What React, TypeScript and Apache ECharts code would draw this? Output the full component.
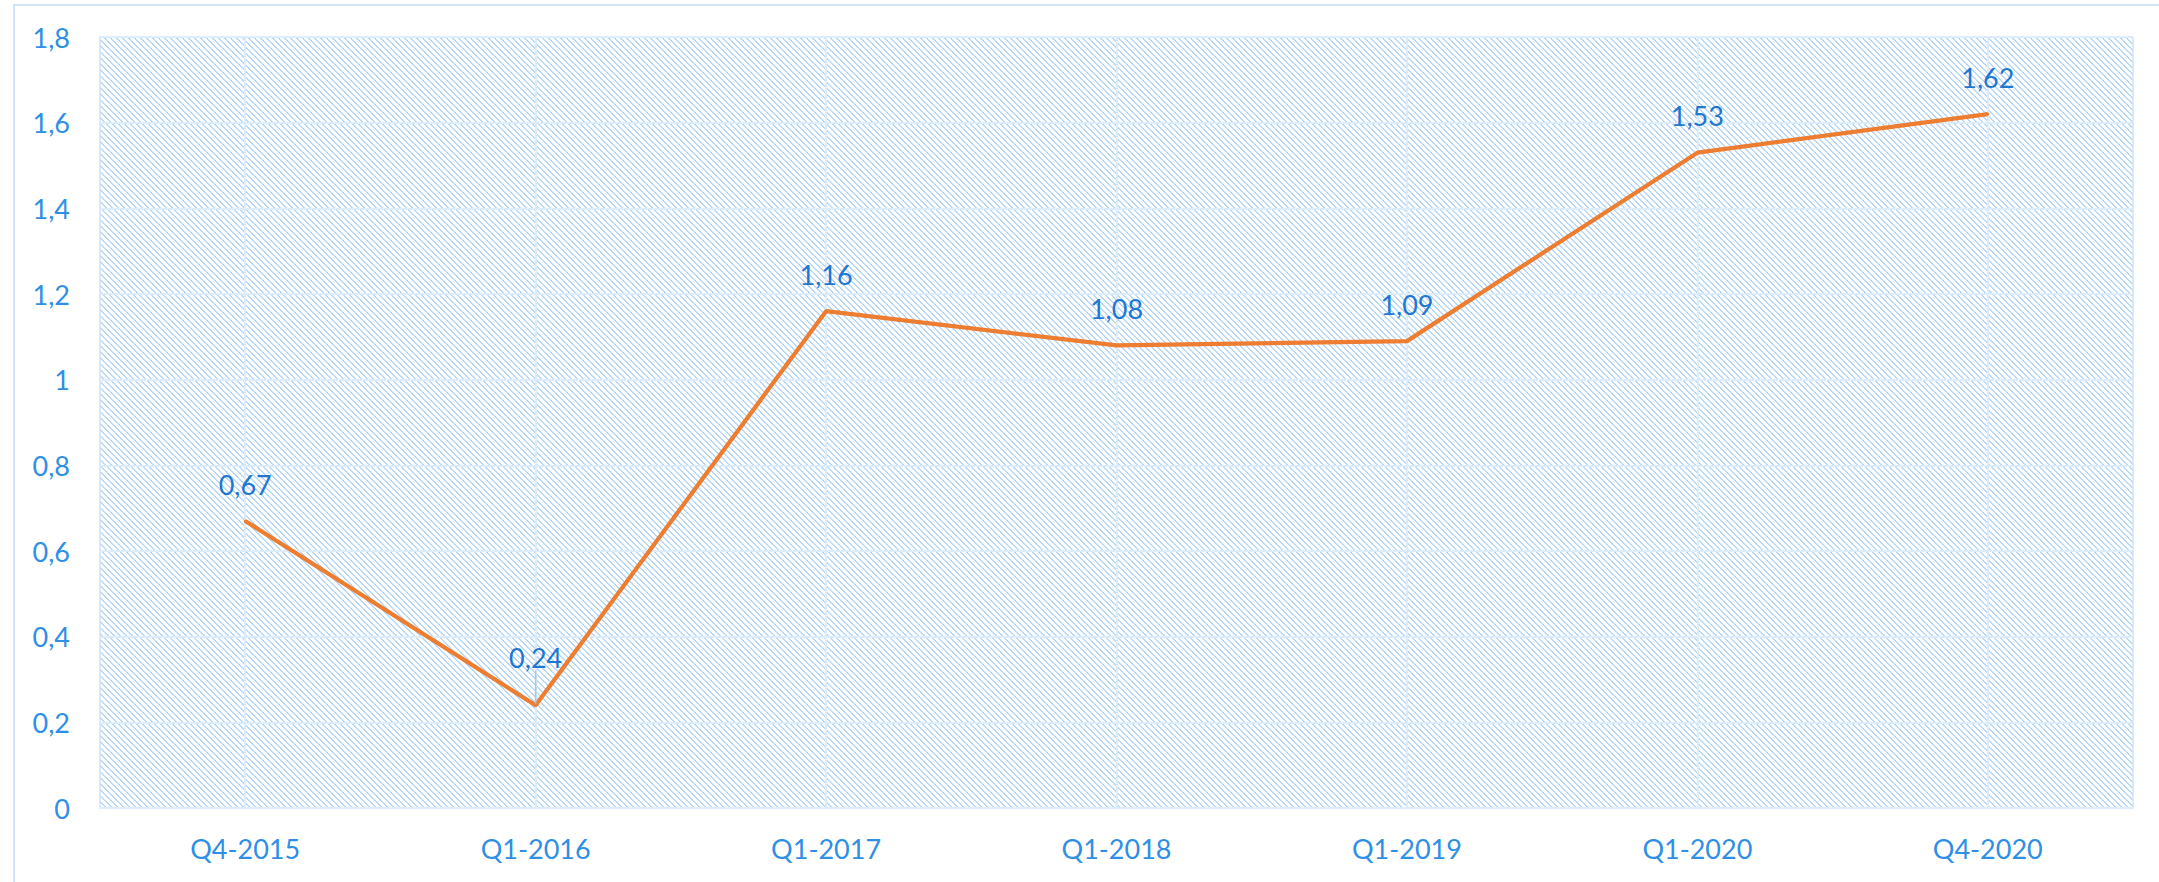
import React, { useEffect, useRef } from "react";
import * as echarts from "echarts";

const categories = ["Q4-2015", "Q1-2016", "Q1-2017", "Q1-2018", "Q1-2019", "Q1-2020", "Q4-2020"];
const values = [0.67, 0.24, 1.16, 1.08, 1.09, 1.53, 1.62];
const yMin = 0;
const yMax = 1.8;
const yInterval = 0.2;
const movedLabelIndex = 1;

function makeHatch(): string {
  const n = 6;
  const c = document.createElement("canvas");
  c.width = n;
  c.height = n;
  const ctx = c.getContext("2d")!;
  ctx.fillStyle = "#ffffff";
  ctx.fillRect(0, 0, n, n);
  ctx.fillStyle = "#b9d9f6";
  for (let y = 0; y < n; y++) {
    ctx.fillRect(y, y, 1, 1);
    ctx.fillRect((y + 1) % n, y, 1, 1);
  }
  return c.toDataURL();
}

const comma = (v: number, d: number) => v.toFixed(d).replace(".", ",");

export default function App() {
  const ref = useRef<HTMLDivElement>(null);
  useEffect(() => {
    if (!ref.current) return;
    const chart = echarts.init(ref.current, undefined, { renderer: "svg" });
    const font = "Lato, 'Open Sans', sans-serif";
    const gridLine = { color: "#dcecfb", width: 2.2, type: "solid" as const };
    chart.setOption({
      animation: false,
      backgroundColor: "#ffffff",
      graphic: [
        {
          type: "rect",
          shape: { x: 14, y: 5, width: 2400, height: 1200 },
          style: { fill: "none", stroke: "#d2e5f7", lineWidth: 2 },
          silent: true,
        },
      ],
      grid: {
        left: 100,
        top: 37,
        right: 26,
        bottom: 74,
        show: true,
        backgroundColor: {
          image: makeHatch(),
          repeat: "repeat",
          imageWidth: 6,
          imageHeight: 6,
        },
        borderColor: "#cfe4f8",
        borderWidth: 1.5,
      },
      xAxis: {
        type: "category",
        data: categories,
        boundaryGap: true,
        axisLine: { show: false },
        axisTick: { show: false },
        axisLabel: { color: "#2f8fe5", fontSize: 27, fontFamily: font, margin: 27 },
        splitLine: { show: false },
      },
      yAxis: {
        type: "value",
        min: yMin,
        max: yMax,
        interval: yInterval,
        axisLine: { show: false },
        axisTick: { show: false },
        axisLabel: {
          color: "#2f8fe5",
          fontSize: 27,
          fontFamily: font,
          margin: 30,
          formatter: (v: number) => String(Number(v.toFixed(1))).replace(".", ","),
        },
        splitLine: { show: true, lineStyle: gridLine },
      },
      series: [
        {
          type: "line",
          z: 3,
          data: values.map((v, i) =>
            i === movedLabelIndex
              ? { value: v, labelLine: { show: true, lineStyle: { color: "#9ccbf2", width: 1.5 } } }
              : v
          ),
          showSymbol: true,
          symbol: "circle",
          symbolSize: 3,
          itemStyle: { color: "#ed7d31" },
          lineStyle: { color: "#ed7d31", width: 4.2 },
          label: {
            show: true,
            position: "top",
            distance: 22,
            color: "#1f77d0",
            fontSize: 27,
            fontFamily: font,
            formatter: (p: any) => comma(p.value as number, 2),
          },
          labelLayout: (params: any) => (params.dataIndex === movedLabelIndex ? { dy: -11 } : {}),
          markLine: {
            silent: true,
            z: 1,
            symbol: "none",
            label: { show: false },
            lineStyle: gridLine,
            data: categories.map((c) => ({ xAxis: c })),
          },
        },
      ],
    });
    return () => chart.dispose();
  }, []);
  return (
    <div
      ref={ref}
      style={{ position: "fixed", left: 0, top: 0, width: 2159, height: 882 }}
    />
  );
}
